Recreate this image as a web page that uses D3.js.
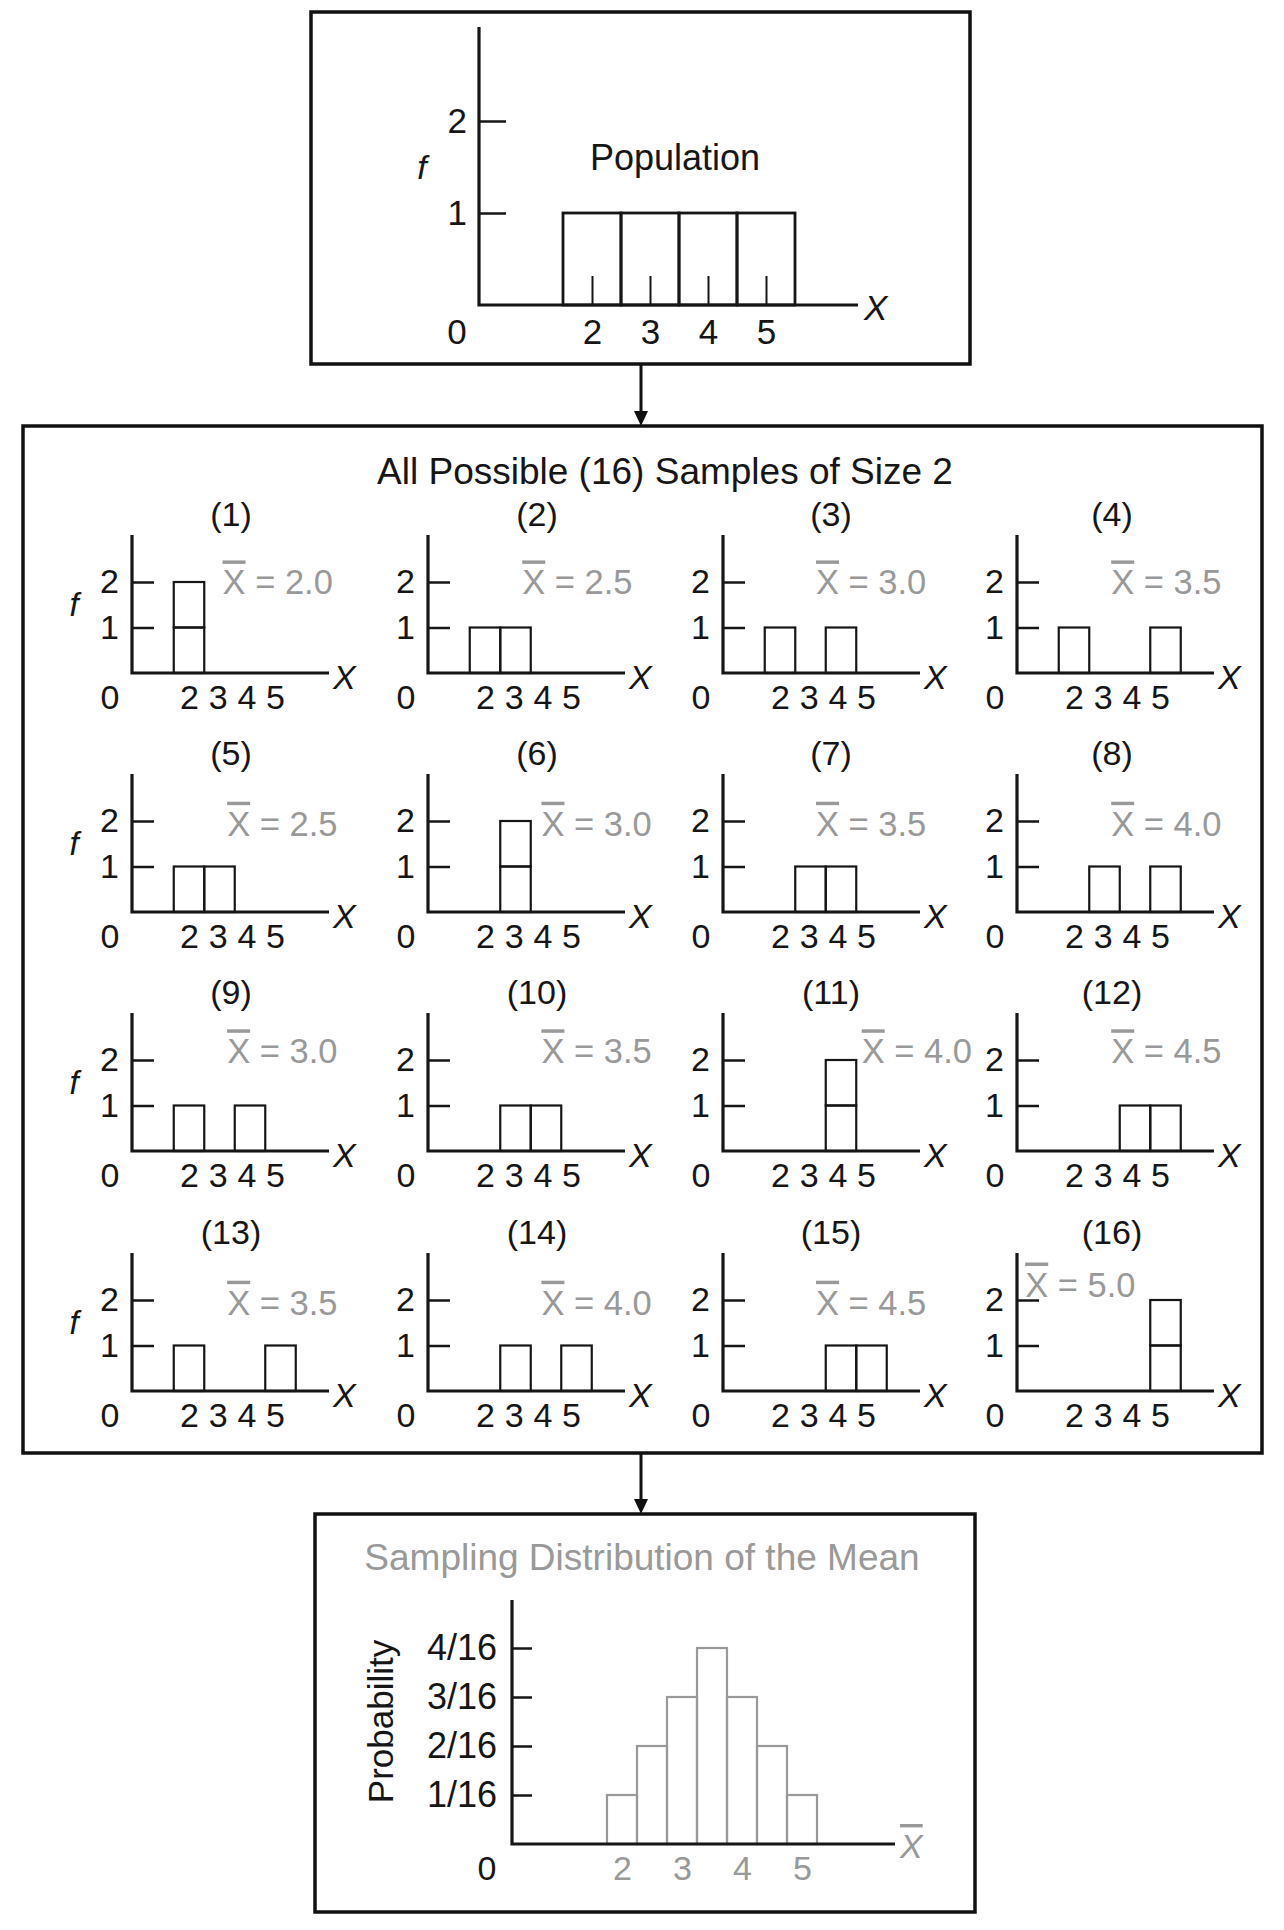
<!DOCTYPE html>
<html><head><meta charset="utf-8">
<script src="https://cdn.jsdelivr.net/npm/d3@7"></script>
<style>
html,body{margin:0;padding:0;background:#fff;}
svg text{font-family:"Liberation Sans",Arial,Helvetica,sans-serif;}
</style></head><body>
<svg id="c" width="1284" height="1930"></svg>
<script>
// ---------- DATA ----------
const populationValues = [2, 3, 4, 5];
const populationFreq = [1, 1, 1, 1];
const xTickValues = [2, 3, 4, 5];
const freqTickValues = [1, 2];
const sampleIds = ["(1)","(2)","(3)","(4)","(5)","(6)","(7)","(8)","(9)","(10)","(11)","(12)","(13)","(14)","(15)","(16)"];
const sampleFirst  = [2,2,2,2, 3,3,3,3, 4,4,4,4, 5,5,5,5];
const sampleSecond = [2,3,4,5, 2,3,4,5, 2,3,4,5, 2,3,4,5];
const sampleMeanText = ["2.0","2.5","3.0","3.5","2.5","3.0","3.5","4.0","3.0","3.5","4.0","4.5","3.5","4.0","4.5","5.0"];
// anchor of each mean annotation, in the panel's own data units (x, f)
const meanLabelX = [3.1,3.22,3.18,3.22, 3.25,3.85,3.18,3.22, 3.25,3.85,4.68,3.22, 3.25,3.85,3.18,0.4];
const meanLabelF = [2.0,2.0,2.0,2.0, 1.95,1.95,1.95,1.95, 2.2,2.2,2.2,2.2, 1.95,1.95,1.95,2.35];
const meanValues = [2, 2.5, 3, 3.5, 4, 4.5, 5];
const meanCounts = [1, 2, 3, 4, 3, 2, 1];
const probTickValues = [1/16, 2/16, 3/16, 4/16];
const probTickLabels = ["1/16", "2/16", "3/16", "4/16"];

// ---------- STYLE ----------
const INK = "#161616", GRAY = "#999999";
const svg = d3.select("#c");

function box(x0, y0, x1, y1) {
  svg.append("rect").attr("x", x0).attr("y", y0).attr("width", x1 - x0).attr("height", y1 - y0)
    .attr("fill", "none").attr("stroke", "#111").attr("stroke-width", 3.5);
}
function arrow(x, y0, y1) {
  svg.append("line").attr("x1", x).attr("x2", x).attr("y1", y0).attr("y2", y1 - 13)
    .attr("stroke", "#111").attr("stroke-width", 3);
  svg.append("path").attr("d", `M${x - 7},${y1 - 15}L${x + 7},${y1 - 15}L${x},${y1}Z`).attr("fill", "#111");
}
function styleAxis(g, size, color) {
  g.select(".domain").remove();
  g.attr("font-family", null).attr("font-size", null);
  g.selectAll("text").attr("font-size", size).attr("fill", color || INK);
  g.selectAll("line").attr("stroke", INK).attr("stroke-width", 2.5);
}

// ---------- BOXES & ARROWS ----------
box(311, 12, 970, 364);
box(23, 426, 1262, 1453);
box(315, 1514, 975, 1912);
arrow(641, 364, 426);
arrow(641, 1453, 1514);

// ---------- POPULATION ----------
{
  const g = svg.append("g").attr("transform", "translate(479,305)");
  const x = d3.scaleLinear().domain([2, 5]).range([113, 287]);
  const y = d3.scaleLinear().domain([0, 2]).range([0, -184]);
  const bw = x(3) - x(2);
  g.selectAll("rect.bar").data(populationValues).join("rect").attr("class", "bar")
    .attr("x", d => x(d) - bw / 2).attr("width", bw)
    .attr("y", (d, i) => y(populationFreq[i])).attr("height", (d, i) => y(0) - y(populationFreq[i]))
    .attr("fill", "none").attr("stroke", INK).attr("stroke-width", 2.8);
  const ax = g.append("g").call(d3.axisBottom(x).tickValues(xTickValues).tickSizeInner(-29).tickSizeOuter(0).tickPadding(14).tickFormat(d3.format("d")));
  styleAxis(ax, 35);
  ax.selectAll("line").attr("stroke-width", 2);
  const ay = g.append("g").call(d3.axisLeft(y).tickValues(freqTickValues).tickSizeInner(-27).tickSizeOuter(0).tickPadding(12).tickFormat(d3.format("d")));
  styleAxis(ay, 35);
  g.append("path").attr("d", "M0,-278V0H379").attr("fill", "none").attr("stroke", INK).attr("stroke-width", 3.2);
  g.append("text").attr("x", -22).attr("y", 14).attr("dy", "0.71em").attr("text-anchor", "middle").attr("font-size", 35).attr("fill", INK).text("0");
  g.append("text").attr("x", 385).attr("y", 15).attr("font-size", 35).attr("font-style", "italic").attr("fill", INK).text("X");
  g.append("text").attr("x", -57).attr("y", y(1.5)).attr("dy", "0.35em").attr("text-anchor", "middle").attr("font-size", 34).attr("font-style", "italic").attr("fill", INK).text("f");
  g.append("text").attr("x", 196).attr("y", y(1.6)).attr("dy", "0.35em").attr("text-anchor", "middle").attr("font-size", 36).attr("fill", INK).text("Population");
}

// ---------- 16 SAMPLES ----------
svg.append("text").attr("x", 665).attr("y", 471).attr("dy", "0.35em").attr("text-anchor", "middle")
  .attr("font-size", 37).attr("fill", INK).text("All Possible (16) Samples of Size 2");

const colX = [132, 428, 723, 1017];
const rowY = [673, 912, 1151, 1391];
const titleDX = [99, 109, 108, 95];

sampleIds.forEach((id, i) => {
  const c = i % 4, r = Math.floor(i / 4);
  const g = svg.append("g").attr("transform", `translate(${colX[c]},${rowY[r]})`);
  const x = d3.scaleLinear().domain([2, 5]).range([57, 148.5]);
  const xl = d3.scaleLinear().domain([2, 5]).range([57, 143]);
  const y = d3.scaleLinear().domain([0, 2]).range([0, -91]);
  const bw = x(3) - x(2);
  // each observation is a unit box, stacked when values repeat
  const obs = [sampleFirst[i], sampleSecond[i]];
  const seen = {};
  const boxes = obs.map(v => { const lvl = seen[v] || 0; seen[v] = lvl + 1; return { v, lvl }; });
  g.selectAll("rect.bar").data(boxes).join("rect").attr("class", "bar")
    .attr("x", d => x(d.v) - bw / 2).attr("width", bw)
    .attr("y", d => y(d.lvl + 1)).attr("height", d => y(d.lvl) - y(d.lvl + 1))
    .attr("fill", "none").attr("stroke", INK).attr("stroke-width", 2.2);
  const ay = g.append("g").call(d3.axisLeft(y).tickValues(freqTickValues).tickSizeInner(-22).tickSizeOuter(0).tickPadding(13).tickFormat(d3.format("d")));
  styleAxis(ay, 34);
  const ax = g.append("g").call(d3.axisBottom(xl).tickValues(xTickValues).tickSize(0).tickPadding(12).tickFormat(d3.format("d")));
  styleAxis(ax, 34);
  g.append("path").attr("d", "M0,-138V0H197").attr("fill", "none").attr("stroke", INK).attr("stroke-width", 3.2);
  g.append("text").attr("x", -22).attr("y", 12).attr("dy", "0.71em").attr("text-anchor", "middle").attr("font-size", 34).attr("fill", INK).text("0");
  g.append("text").attr("x", 201).attr("y", 16).attr("font-size", 34).attr("font-style", "italic").attr("fill", INK).text("X");
  g.append("text").attr("x", titleDX[c]).attr("y", -159).attr("dy", "0.35em").attr("text-anchor", "middle").attr("font-size", 34).attr("fill", INK).text(id);
  if (c === 0) {
    g.append("text").attr("x", -58).attr("y", y(1.5)).attr("dy", "0.35em").attr("text-anchor", "middle").attr("font-size", 33).attr("font-style", "italic").attr("fill", INK).text("f");
  }
  const t = g.append("text").attr("x", x(meanLabelX[i])).attr("y", y(meanLabelF[i])).attr("dy", "0.36em")
    .attr("font-size", 34.5).attr("fill", GRAY);
  t.append("tspan").style("text-decoration", "overline").text("X");
  t.append("tspan").text(" = " + sampleMeanText[i]);
});

// ---------- SAMPLING DISTRIBUTION ----------
svg.append("text").attr("x", 642).attr("y", 1557).attr("dy", "0.35em").attr("text-anchor", "middle")
  .attr("font-size", 37).attr("fill", GRAY).text("Sampling Distribution of the Mean");
{
  const g = svg.append("g").attr("transform", "translate(512,1844)");
  const x = d3.scaleLinear().domain([2, 5]).range([110, 290]);
  const y = d3.scaleLinear().domain([0, 4 / 16]).range([0, -196]);
  const bw = x(2.5) - x(2);
  g.selectAll("rect.bar").data(meanValues).join("rect").attr("class", "bar")
    .attr("x", d => x(d) - bw / 2).attr("width", bw)
    .attr("y", (d, i) => y(meanCounts[i] / 16)).attr("height", (d, i) => y(0) - y(meanCounts[i] / 16))
    .attr("fill", "none").attr("stroke", GRAY).attr("stroke-width", 2.2);
  const ay = g.append("g").call(d3.axisLeft(y).tickValues(probTickValues).tickSizeInner(-20).tickSizeOuter(0).tickPadding(15)
    .tickFormat((d, i) => probTickLabels[i]));
  styleAxis(ay, 36);
  const ax = g.append("g").call(d3.axisBottom(x).tickValues(xTickValues).tickSize(0).tickPadding(12).tickFormat(d3.format("d")));
  styleAxis(ax, 34, GRAY);
  g.append("path").attr("d", "M0,-244V0H383").attr("fill", "none").attr("stroke", INK).attr("stroke-width", 3.2);
  g.append("text").attr("x", -25).attr("y", 12).attr("dy", "0.71em").attr("text-anchor", "middle").attr("font-size", 34).attr("fill", INK).text("0");
  const xt = g.append("text").attr("x", 388).attr("y", 14).attr("font-size", 34).attr("font-style", "italic").attr("fill", GRAY);
  xt.append("tspan").style("text-decoration", "overline").text("X");
  g.append("text").attr("transform", `translate(-131,${y(2.5 / 16)}) rotate(-90)`).attr("dy", "0.35em")
    .attr("text-anchor", "middle").attr("font-size", 35).attr("fill", INK).text("Probability");
}
</script>
</body></html>
